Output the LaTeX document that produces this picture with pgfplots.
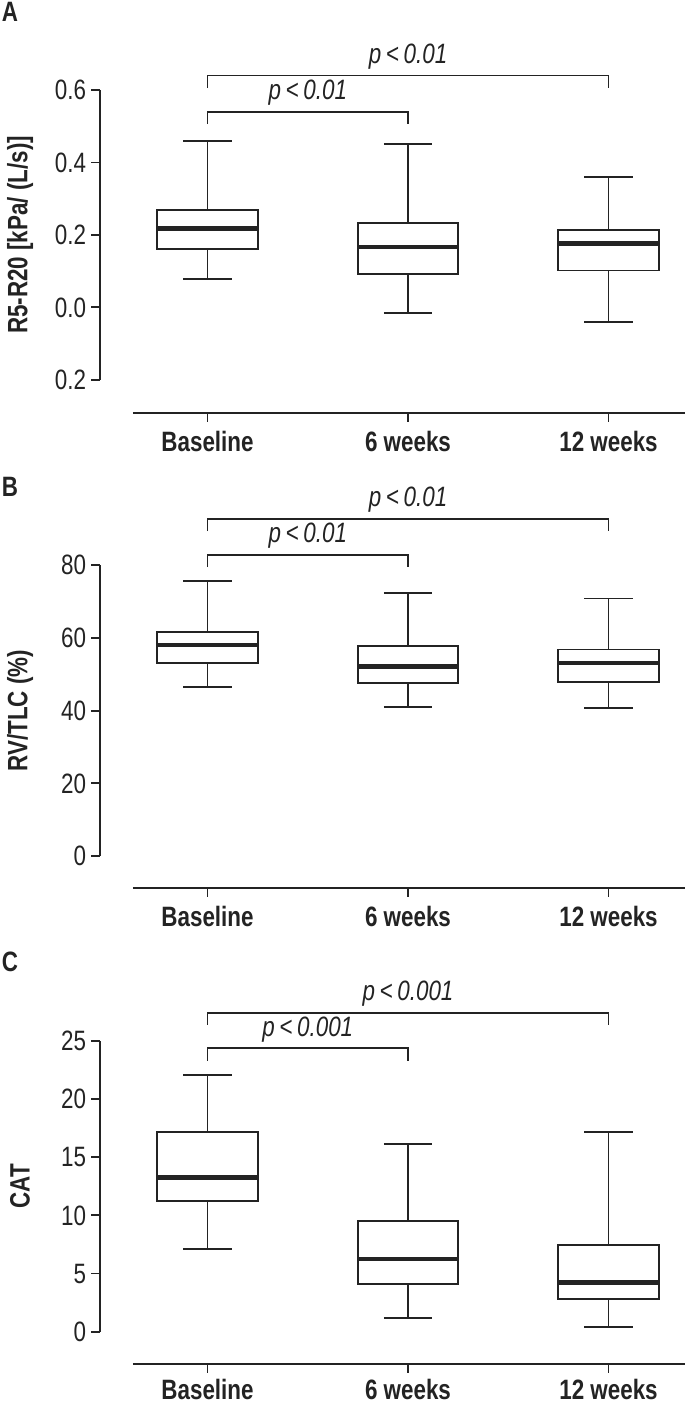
\documentclass[border=0pt]{standalone}
\usepackage{fontspec}
\setmainfont{Liberation Sans}[FakeStretch=0.8]
\usepackage{pgfplots}
\pgfplotsset{compat=1.18}
\usepgfplotslibrary{statistics}
\definecolor{ink}{RGB}{35,35,35}
\tikzset{ln/.style={ink, line width=0.95pt}}
\pgfplotsset{
  panel/.style={
    scale only axis, width=292.5pt, height=161.5pt, anchor=south west,
    xmin=0.4638, xmax=3.3815,
    axis lines*=left, axis line style={draw=none},
    tick align=outside, major tick length=4.3pt,
    every tick/.style={ink, line width=0.95pt},
    xtick={1,2,3}, xticklabels={Baseline,6 weeks,12 weeks},
    x tick label style={font=\fontsize{14}{16}\selectfont\bfseries, text=ink, inner sep=2pt, yshift=-2.5pt},
    y tick label style={font=\fontsize{14}{16}\selectfont, text=ink, inner sep=2.5pt},
    clip=false,
    boxplot/draw direction=y,
    boxplot/box extend=0.5,
    boxplot/whisker extend=0.24,
    boxplot/every median/.style={line width=2.2pt},
  },
  bx/.style={ink, line width=0.95pt, solid, mark=none},
}
\newcommand\pfont{\fontsize{14}{16}\selectfont\itshape}
\newcommand\lfont{\fontsize{14}{16}\selectfont\bfseries}
\begin{document}
\begin{tikzpicture}
\path[use as bounding box] (0,0) rectangle (342.5pt,702.5pt);
% ---------------- Panel A
\begin{axis}[panel, at={(50pt,496pt)}, ymin=-0.2913, ymax=0.6,
  ytick={-0.2,0,0.2,0.4,0.6}, yticklabels={0.2,0.0,0.2,0.4,0.6}]
\addplot[bx, boxplot prepared={draw position=1, lower whisker=0.079, lower quartile=0.161, median=0.218, upper quartile=0.269, upper whisker=0.460}] coordinates {};
\addplot[bx, boxplot prepared={draw position=2, lower whisker=-0.016, lower quartile=0.092, median=0.166, upper quartile=0.233, upper whisker=0.451}] coordinates {};
\addplot[bx, boxplot prepared={draw position=3, lower whisker=-0.041, lower quartile=0.102, median=0.176, upper quartile=0.213, upper whisker=0.361}] coordinates {};
\draw[ln] (axis cs:0.4638,-0.2) -- (axis cs:0.4638,0.6);
\draw[ln] (axis cs:0.628,-0.2913) -- (axis cs:3.3815,-0.2913);
\draw[ln] (axis cs:1,0.605) -- (axis cs:1,0.640) -- (axis cs:3,0.640) -- (axis cs:3,0.605);
\draw[ln] (axis cs:1,0.506) -- (axis cs:1,0.540) -- (axis cs:2,0.540) -- (axis cs:2,0.506);
\node[anchor=south, inner sep=0pt, yshift=3pt, text=ink, font=\pfont] at (axis cs:2,0.640) {p\,<\,0.01};
\node[anchor=south, inner sep=0pt, yshift=3pt, text=ink, font=\pfont] at (axis cs:1.5,0.540) {p\,<\,0.01};
\node[rotate=90, text=ink, font=\lfont] at (axis cs:0.065,0.2) {R5-R20 [kPa/ (L/s)]};
\end{axis}
% ---------------- Panel B
\begin{axis}[panel, at={(50pt,258.5pt)}, ymin=-8.73, ymax=80,
  ytick={0,20,40,60,80}, yticklabels={0,20,40,60,80}]
\addplot[bx, boxplot prepared={draw position=1, lower whisker=46.4, lower quartile=53.2, median=58.1, upper quartile=61.6, upper whisker=75.7}] coordinates {};
\addplot[bx, boxplot prepared={draw position=2, lower whisker=41.0, lower quartile=47.5, median=52.1, upper quartile=57.8, upper whisker=72.3}] coordinates {};
\addplot[bx, boxplot prepared={draw position=3, lower whisker=40.8, lower quartile=47.8, median=53.1, upper quartile=56.8, upper whisker=70.8}] coordinates {};
\draw[ln] (axis cs:0.4638,0) -- (axis cs:0.4638,80);
\draw[ln] (axis cs:0.628,-8.73) -- (axis cs:3.3815,-8.73);
\draw[ln] (axis cs:1,89.3) -- (axis cs:1,92.7) -- (axis cs:3,92.7) -- (axis cs:3,89.3);
\draw[ln] (axis cs:1,79.4) -- (axis cs:1,82.8) -- (axis cs:2,82.8) -- (axis cs:2,79.4);
\node[anchor=south, inner sep=0pt, yshift=3pt, text=ink, font=\pfont] at (axis cs:2,92.7) {p\,<\,0.01};
\node[anchor=south, inner sep=0pt, yshift=3pt, text=ink, font=\pfont] at (axis cs:1.5,82.8) {p\,<\,0.01};
\node[rotate=90, text=ink, font=\lfont] at (axis cs:0.065,40) {RV/TLC (\%)};
\end{axis}
% ---------------- Panel C
\begin{axis}[panel, at={(50pt,20.5pt)}, ymin=-2.78, ymax=25,
  ytick={0,5,10,15,20,25}, yticklabels={0,5,10,15,20,25},
  x tick label style={yshift=1.5pt}]
\addplot[bx, boxplot prepared={draw position=1, lower whisker=7.11, lower quartile=11.21, median=13.27, upper quartile=17.2, upper whisker=22.08}] coordinates {};
\addplot[bx, boxplot prepared={draw position=2, lower whisker=1.2, lower quartile=4.1, median=6.25, upper quartile=9.55, upper whisker=16.14}] coordinates {};
\addplot[bx, boxplot prepared={draw position=3, lower whisker=0.37, lower quartile=2.81, median=4.24, upper quartile=7.48, upper whisker=17.2}] coordinates {};
\draw[ln] (axis cs:0.4638,0) -- (axis cs:0.4638,25);
\draw[ln] (axis cs:0.628,-2.78) -- (axis cs:3.3815,-2.78);
\draw[ln] (axis cs:1,26.4) -- (axis cs:1,27.44) -- (axis cs:3,27.44) -- (axis cs:3,26.4);
\draw[ln] (axis cs:1,23.3) -- (axis cs:1,24.37) -- (axis cs:2,24.37) -- (axis cs:2,23.3);
\node[anchor=south, inner sep=0pt, yshift=3pt, text=ink, font=\pfont] at (axis cs:2,27.44) {p\,<\,0.001};
\node[anchor=south, inner sep=0pt, yshift=3pt, text=ink, font=\pfont] at (axis cs:1.5,24.37) {p\,<\,0.001};
\node[rotate=90, text=ink, font=\lfont] at (axis cs:0.065,12.5) {CAT};
\end{axis}
\node[text=ink, font=\lfont] at (5pt,696.7pt) {A};
\node[text=ink, font=\lfont] at (5pt,459.2pt) {B};
\node[text=ink, font=\lfont] at (5pt,221.7pt) {C};
\end{tikzpicture}
\end{document}
